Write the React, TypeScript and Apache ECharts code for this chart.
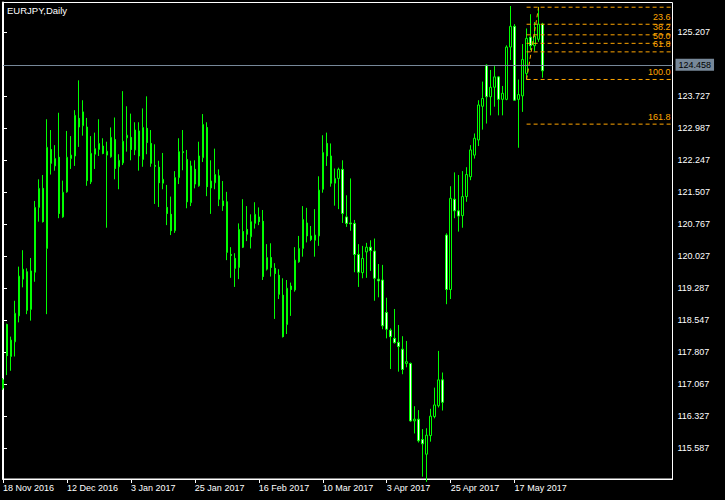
import React, { useEffect, useRef } from "react";
import * as echarts from "echarts";

const chartTitle = "EURJPY,Daily";

const opens = [
  116.98, 118.45, 117.71, 118.05, 118.65, 119.5, 119.67, 118.8, 119.66, 121.16,
  121.6, 120.21, 122.5, 122.12, 122.32, 120.94, 121.52, 122.29, 122.35, 123.22,
  123.05, 123.02, 121.75, 122.39, 122.5, 122.58, 122.37, 122.33, 122.73, 122.1,
  122.19, 122.77, 122.78, 122.49, 122.93, 122.27, 122.99, 122.64, 122.13, 122.09,
  121.72, 121.16, 121.0, 120.62, 121.85, 122.45, 122.27, 121.27, 122.04, 121.66,
  122.31, 123.01, 121.61, 121.73, 121.89, 121.31, 121.29, 120.07, 119.98, 119.77,
  120.6, 120.65, 120.48, 120.79, 120.94, 120.84, 119.73, 120.0, 119.75, 119.59,
  119.13, 118.45, 119.34, 119.25, 119.9, 120.21, 120.8, 120.5, 120.4, 120.5,
  121.58, 122.64, 122.35, 121.72, 121.83, 122.04, 120.94, 120.8, 120.79, 120.07,
  119.65, 120.13, 120.24, 120.15, 119.5, 119.48, 118.73, 118.32, 118.13, 118.04,
  117.88, 117.55, 117.55, 116.22, 116.26, 115.79, 115.45, 115.88, 116.32, 116.57,
  117.17, 120.52, 119.26, 121.35, 121.08, 120.97, 121.41, 121.87, 122.37, 122.72,
  123.5, 124.45, 123.72, 123.94, 124.18, 123.66, 123.66, 124.87, 125.35, 123.66,
  123.74, 124.26, 125.1, 124.9, 125.05, 125.4,
];
const highs = [
  117.21, 118.47, 118.17, 119.0, 119.79, 120.17, 119.75, 119.99, 121.31, 121.81,
  121.91, 123.2, 122.95, 122.6, 123.35, 121.78, 122.93, 122.81, 123.41, 124.1,
  123.64, 123.23, 122.81, 122.89, 123.2, 122.76, 122.68, 123.01, 123.24, 122.39,
  123.85, 123.5, 123.33, 123.13, 123.13, 123.45, 123.73, 122.95, 122.62, 122.24,
  122.42, 121.68, 121.41, 122.0, 122.76, 122.95, 122.49, 122.24, 122.25, 122.68,
  123.32, 123.13, 122.25, 122.52, 122.04, 121.77, 121.52, 120.24, 120.1, 120.79,
  121.35, 121.19, 121.0, 121.28, 121.16, 121.1, 120.31, 120.33, 119.87, 119.73,
  119.52, 119.48, 119.42, 120.24, 120.5, 121.19, 121.15, 120.73, 121.12, 121.88,
  122.83, 122.89, 122.64, 122.06, 122.08, 122.25, 121.44, 121.83, 120.87, 120.31,
  120.27, 120.34, 120.4, 120.44, 119.85, 119.83, 119.07, 118.36, 118.81, 118.44,
  118.18, 118.07, 117.57, 116.56, 116.47, 116.03, 116.05, 116.5, 116.99, 117.84,
  117.34, 120.56, 121.65, 121.97, 121.91, 122.0, 122.09, 122.6, 122.87, 123.64,
  124.07, 124.47, 124.34, 124.43, 124.2, 123.97, 124.91, 125.82, 125.4, 124.12,
  124.94, 125.3, 125.63, 125.45, 125.8, 125.43,
];
const lows = [
  116.94, 117.28, 117.38, 117.71, 118.5, 119.31, 118.69, 118.54, 119.44, 120.83,
  120.81, 118.69, 121.92, 122.01, 120.91, 120.92, 121.5, 122.05, 122.12, 122.56,
  122.82, 121.66, 121.7, 122.05, 122.35, 122.39, 120.69, 122.31, 121.81, 121.58,
  122.14, 122.45, 122.25, 122.37, 122.01, 122.1, 122.39, 122.1, 121.24, 121.17,
  121.58, 120.75, 120.52, 120.57, 121.7, 122.02, 121.14, 121.19, 121.6, 121.64,
  122.21, 121.42, 121.01, 121.58, 121.19, 121.08, 119.94, 119.53, 119.32, 119.5,
  120.22, 120.38, 120.21, 120.67, 120.75, 119.48, 119.7, 119.56, 118.58, 119.04,
  118.15, 118.23, 118.65, 119.21, 119.88, 120.02, 120.35, 120.38, 120.02, 120.27,
  121.5, 122.12, 121.64, 121.2, 121.12, 120.8, 120.71, 120.62, 119.66, 119.32,
  119.52, 119.53, 119.69, 119.0, 119.08, 118.34, 118.13, 117.42, 118.01, 117.36,
  117.3, 117.46, 116.2, 115.93, 115.72, 114.93, 114.81, 115.74, 116.28, 116.53,
  116.46, 118.92, 119.04, 120.91, 120.6, 120.69, 121.29, 121.79, 122.29, 122.58,
  122.96, 123.1, 123.29, 123.49, 123.29, 123.29, 123.64, 124.57, 123.63, 122.54,
  123.37, 124.12, 124.8, 124.78, 124.99, 124.16,
];
const closes = [
  117.17, 117.73, 118.09, 118.71, 119.57, 119.73, 118.78, 119.69, 121.16, 121.6,
  120.83, 122.55, 122.18, 122.29, 121.02, 121.51, 122.32, 122.37, 123.29, 123.02,
  123.37, 121.78, 122.41, 122.52, 122.64, 122.41, 122.46, 122.78, 122.06, 122.25,
  122.69, 122.83, 122.5, 122.95, 122.35, 123.01, 122.66, 122.18, 122.11, 121.73,
  121.81, 121.02, 120.62, 121.85, 122.45, 122.43, 121.29, 122.12, 121.7, 122.35,
  123.08, 121.64, 121.77, 121.92, 121.35, 121.2, 120.12, 120.05, 119.75, 120.65,
  120.24, 120.54, 120.83, 121.0, 120.83, 119.56, 120.0, 119.77, 119.63, 119.15,
  118.17, 119.29, 119.26, 119.94, 120.21, 120.88, 120.5, 120.42, 120.52, 121.56,
  122.43, 122.35, 121.72, 121.83, 122.04, 121.02, 120.79, 120.78, 120.07, 119.66,
  119.98, 120.24, 120.16, 119.52, 119.46, 118.42, 118.34, 118.17, 118.03, 117.94,
  117.41, 117.59, 116.22, 116.26, 115.76, 115.69, 115.89, 116.33, 116.59, 117.17,
  116.65, 119.26, 121.37, 121.08, 120.96, 121.41, 121.92, 122.49, 122.76, 123.53,
  123.68, 123.72, 123.94, 124.18, 123.66, 123.8, 124.87, 125.35, 123.64, 123.77,
  124.58, 125.07, 124.9, 125.12, 125.4, 124.32,
];

// x axis: bar index scale (bar 0 at the left edge, empty space to the right)
const xMax = 167.5;
const dateTickIndex = [0, 16, 32, 48, 64, 80, 96, 112, 128];
const dateTickLabels = [
  "18 Nov 2016",
  "12 Dec 2016",
  "3 Jan 2017",
  "25 Jan 2017",
  "16 Feb 2017",
  "10 Mar 2017",
  "3 Apr 2017",
  "25 Apr 2017",
  "17 May 2017",
];
const priceTicks = [
  125.207, 123.727, 122.987, 122.247, 121.507, 120.767, 120.027, 119.287,
  118.547, 117.807, 117.067, 116.327, 115.587,
];
const bidPrice = 124.458;
const yMin = 114.876;
const yMax = 125.901;

const fibHigh = 125.792;
const fibLow = 124.12;
const fibStartBar = 131;
const fibHighBar = 134;
const fibLevels = [0, 23.6, 38.2, 50, 61.8, 100, 161.8];
const fibLabels = ["", "23.6", "38.2", "50.0", "61.8", "100.0", "161.8"];

const FONT = '"Liberation Sans", Arial, sans-serif';
const GREEN = "#00ff00";
const ORANGE = "#ffa500";
const SLATE = "#778899";

export default function App() {
  const ref = useRef<HTMLDivElement>(null);

  useEffect(() => {
    if (!ref.current) return;
    const chart = echarts.init(ref.current, null, { renderer: "svg" });

    const tickMap: Record<number, string> = {};
    dateTickIndex.forEach((idx, k) => {
      tickMap[idx] = dateTickLabels[k];
    });

    const candleData = opens.map((o, i) => [i, o, closes[i], lows[i], highs[i]]);

    const fibStyle = { color: ORANGE, type: [4, 3], width: 1 };
    const range = fibHigh - fibLow;

    const fibSeries: any[] = fibLevels.map((lv, k) => {
      const p = fibHigh - (range * lv) / 100;
      return {
        type: "line",
        silent: true,
        symbol: "circle",
        symbolSize: 0,
        showSymbol: true,
        clip: false,
        lineStyle: fibStyle,
        itemStyle: { color: ORANGE },
        data: [
          { value: [fibStartBar, p], label: { show: false } },
          {
            value: [xMax, p],
            label: {
              show: fibLabels[k] !== "",
              formatter: fibLabels[k],
              position: [-2, -3],
              align: "right",
              verticalAlign: "bottom",
              color: ORANGE,
              fontSize: 9,
              fontFamily: FONT,
            },
          },
        ],
        z: 3,
      };
    });

    const diagonalSeries: any = {
      type: "line",
      silent: true,
      symbol: "none",
      lineStyle: fibStyle,
      data: [
        [fibStartBar, fibLow],
        [fibHighBar, fibHigh],
      ],
      z: 3,
    };

    const bidLine: any = {
      yAxis: bidPrice,
      lineStyle: { color: SLATE, type: "solid", width: 1 },
      label: {
        show: true,
        position: "end",
        formatter: bidPrice.toFixed(3),
        backgroundColor: SLATE,
        color: "#000",
        padding: [2, 3, 1, 3],
        distance: 3,
        fontSize: 9,
        fontFamily: FONT,
      },
    };

    chart.setOption({
      animation: false,
      backgroundColor: "#000",
      grid: {
        left: 2.5,
        top: 2.5,
        right: 52.5,
        bottom: 21,
        show: true,
        borderColor: "#fff",
        borderWidth: 1,
      },
      graphic: [
        {
          type: "text",
          left: 7,
          top: 5,
          style: {
            text: chartTitle,
            fill: "#fff",
            font: `9.5px ${FONT}`,
          },
        },
      ],
      xAxis: {
        type: "value",
        min: 0,
        max: xMax,
        axisLine: { show: true, lineStyle: { color: "#fff" } },
        axisTick: {
          show: true,
          customValues: dateTickIndex,
          length: 4,
          lineStyle: { color: "#fff" },
        },
        axisLabel: {
          customValues: dateTickIndex,
          formatter: (v: number) => tickMap[Math.round(v)] || "",
          color: "#fff",
          align: "left",
          margin: 4,
          fontSize: 9,
          fontFamily: FONT,
          showMinLabel: true,
        },
        splitLine: { show: false },
      },
      yAxis: {
        type: "value",
        position: "right",
        min: yMin,
        max: yMax,
        axisLine: { show: true, lineStyle: { color: "#fff", width: 2 } },
        axisTick: {
          show: true,
          customValues: priceTicks,
          length: 4,
          lineStyle: { color: "#fff" },
        },
        axisLabel: {
          customValues: priceTicks,
          formatter: (v: number) => v.toFixed(3),
          color: "#fff",
          margin: 5,
          fontSize: 9,
          fontFamily: FONT,
        },
        splitLine: { show: false },
      },
      series: [
        {
          type: "candlestick",
          data: candleData,
          encode: { x: 0, y: [1, 2, 3, 4] },
          barWidth: 2,
          clip: true,
          itemStyle: {
            color: "#000",
            color0: "#fff",
            borderColor: GREEN,
            borderColor0: GREEN,
            borderWidth: 1,
          },
          markLine: {
            silent: true,
            symbol: ["none", "none"],
            animation: false,
            data: [bidLine],
          },
        },
        ...fibSeries,
        diagonalSeries,
      ],
    });

    return () => chart.dispose();
  }, []);

  return (
    <div
      ref={ref}
      style={{
        position: "fixed",
        left: 0,
        top: 0,
        width: 725,
        height: 500,
        background: "#000",
      }}
    />
  );
}
